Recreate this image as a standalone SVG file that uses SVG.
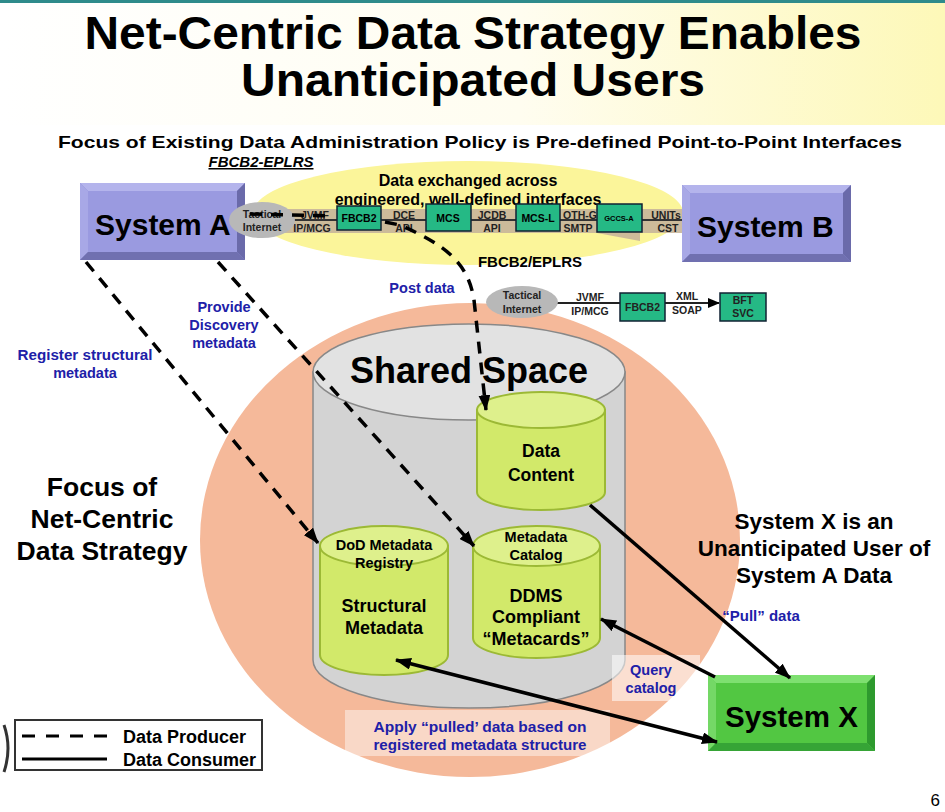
<svg xmlns="http://www.w3.org/2000/svg" width="945" height="812" viewBox="0 0 945 812">
<defs>
<linearGradient id="tg" x1="0" y1="0" x2="1" y2="0">
<stop offset="0" stop-color="#ffffff"/>
<stop offset="0.55" stop-color="#fffdf0"/>
<stop offset="1" stop-color="#fdf8b8"/>
</linearGradient>
<marker id="ah" viewBox="0 0 16 12" refX="15" refY="6" markerWidth="16" markerHeight="12" markerUnits="userSpaceOnUse" orient="auto-start-reverse">
<path d="M0,0 L16,6 L0,12 Z" fill="#000"/>
</marker>
<marker id="ahs" viewBox="0 0 12 10" refX="11" refY="5" markerWidth="12" markerHeight="10" markerUnits="userSpaceOnUse" orient="auto">
<path d="M0,0 L12,5 L0,10 Z" fill="#000"/>
</marker>
</defs>
<style>
text{font-family:"Liberation Sans",Arial,sans-serif;font-weight:bold;fill:#000}
.blue{fill:#2020a8;font-size:14.5px}
.sm{font-size:10.5px;fill:#222}
.gb{fill:#25b985;stroke:#123;stroke-width:1.5}
.cyl{fill:#d2e96a;stroke:#9cb935;stroke-width:2}
.cyt{fill:#def08c;stroke:#9cb935;stroke-width:2}
.dash{fill:none;stroke:#000;stroke-width:3.5;stroke-dasharray:12 9}
.sol{fill:none;stroke:#000;stroke-width:3.5}
.pg{font-weight:normal;font-size:17px}
</style>
<rect width="945" height="812" fill="#fff"/>
<rect x="0" y="3" width="945" height="122" fill="url(#tg)"/>
<rect x="0" y="0" width="945" height="3" fill="#2e8b8b"/>
<g id="title">
<text x="473" y="49" font-size="46" text-anchor="middle" textLength="777" lengthAdjust="spacingAndGlyphs">Net-Centric Data Strategy Enables</text>
<text x="473" y="96" font-size="46" text-anchor="middle" textLength="464" lengthAdjust="spacingAndGlyphs">Unanticipated Users</text>
<text x="480" y="148" font-size="17" text-anchor="middle" textLength="844" lengthAdjust="spacingAndGlyphs">Focus of Existing Data Administration Policy is Pre-defined Point-to-Point Interfaces</text>
</g>
<!-- salmon region -->
<ellipse cx="470" cy="540" rx="270" ry="237" fill="#f5b99a"/>
<!-- top yellow ellipse -->
<ellipse cx="468" cy="213" rx="215" ry="52" fill="#fbf59a"/>
<g id="point-to-point">
<text x="261" y="167" font-size="15" font-style="italic" text-anchor="middle" text-decoration="underline">FBCB2-EPLRS</text>
<text x="468" y="186" font-size="16" text-anchor="middle">Data exchanged across</text>
<text x="468" y="205" font-size="16" text-anchor="middle">engineered, well-defined interfaces</text>
<polygon points="285,209 690,209 690,233 640,233 640,241 597,233 285,233" fill="#c6b59a" opacity="0.9"/>
<line x1="290" y1="220" x2="696" y2="220" stroke="#333" stroke-width="2" marker-end="url(#ahs)"/>
<rect class="gb" x="337" y="206" width="44" height="24"/>
<rect class="gb" x="426" y="204" width="45" height="27"/>
<rect class="gb" x="516" y="204" width="44" height="27"/>
<rect class="gb" x="597" y="204" width="45" height="28"/>
<text x="359" y="222" font-size="10.5" text-anchor="middle" fill="#222">FBCB2</text>
<text x="448" y="222" font-size="10.5" text-anchor="middle">MCS</text>
<text x="538" y="222" font-size="10.5" text-anchor="middle">MCS-L</text>
<text x="619" y="221" font-size="7.5" text-anchor="middle">GCCS-A</text>
<text class="sm" x="315" y="219" text-anchor="middle">JVMF</text>
<text class="sm" x="312" y="232" text-anchor="middle">IP/MCG</text>
<text class="sm" x="404" y="219" text-anchor="middle">DCE</text>
<text class="sm" x="404" y="232" text-anchor="middle">API</text>
<text class="sm" x="492" y="219" text-anchor="middle">JCDB</text>
<text class="sm" x="492" y="232" text-anchor="middle">API</text>
<text class="sm" x="580" y="219" text-anchor="middle">OTH-G</text>
<text class="sm" x="578" y="232" text-anchor="middle">SMTP</text>
<text class="sm" x="666" y="219" text-anchor="middle">UNITs</text>
<text class="sm" x="668" y="232" text-anchor="middle">CST</text>
<text x="530" y="267" font-size="15" text-anchor="middle">FBCB2/EPLRS</text>
</g>
<g id="system-a">
<rect x="80" y="183" width="165" height="77" fill="#8a8ad2"/>
<polygon points="80,183 245,183 237,191 88,191" fill="#b4b4ec"/>
<polygon points="80,183 88,191 88,252 80,260" fill="#a8a8e6"/>
<polygon points="245,183 245,260 237,252 237,191" fill="#6a6aaa"/>
<polygon points="80,260 245,260 237,252 88,252" fill="#7070b0"/>
<rect x="88" y="191" width="149" height="61" fill="#9a9ae0"/>
<text x="95" y="235" font-size="30">System A</text>
</g>
<g id="tactical-internet-1">
<ellipse cx="262" cy="220" rx="33" ry="18" fill="#b8b8b8"/>
<text class="sm" x="262" y="218" text-anchor="middle">Tactical</text>
<text class="sm" x="262" y="231" text-anchor="middle">Internet</text>
</g>
<g id="system-b">
<rect x="682" y="185" width="169" height="77" fill="#8a8ad2"/>
<polygon points="682,185 851,185 843,193 690,193" fill="#b4b4ec"/>
<polygon points="682,185 690,193 690,254 682,262" fill="#a8a8e6"/>
<polygon points="851,185 851,262 843,254 843,193" fill="#6a6aaa"/>
<polygon points="682,262 851,262 843,254 690,254" fill="#7070b0"/>
<rect x="690" y="193" width="153" height="61" fill="#9a9ae0"/>
<text x="697" y="237" font-size="30">System B</text>
</g>
<g id="bft-chain">
<line x1="556" y1="303" x2="620" y2="303" stroke="#222" stroke-width="2"/>
<line x1="665" y1="303" x2="719" y2="303" stroke="#222" stroke-width="2" marker-end="url(#ahs)"/>
<ellipse cx="522" cy="302" rx="36" ry="16" fill="#b8b8b8"/>
<text class="sm" x="522" y="299" text-anchor="middle">Tactical</text>
<text class="sm" x="522" y="313" text-anchor="middle">Internet</text>
<text class="sm" x="590" y="301" text-anchor="middle">JVMF</text>
<text class="sm" x="590" y="315" text-anchor="middle">IP/MCG</text>
<rect class="gb" x="620" y="293" width="45" height="28"/>
<text class="sm" x="642.5" y="311" text-anchor="middle">FBCB2</text>
<text class="sm" x="687" y="300" text-anchor="middle">XML</text>
<text class="sm" x="687" y="314" text-anchor="middle">SOAP</text>
<rect class="gb" x="720" y="293" width="46" height="28"/>
<text class="sm" x="743" y="304" text-anchor="middle" fill="#dde">BFT</text>
<text class="sm" x="743" y="317" text-anchor="middle" fill="#dde">SVC</text>
</g>
<g id="shared-space">
<path d="M313,372 L313,660 A156,48 0 0 0 625,660 L625,372 Z" fill="#d3d3d3" stroke="#888" stroke-width="1.5"/>
<ellipse cx="469" cy="372" rx="156" ry="48" fill="#e2e2e2" stroke="#888" stroke-width="1.5"/>
<text x="469" y="383" font-size="36" text-anchor="middle">Shared Space</text>
</g>
<g id="data-content">
<path class="cyl" d="M477,410 L477,492 A64,18 0 0 0 605,492 L605,410 Z"/>
<ellipse class="cyt" cx="541" cy="410" rx="64" ry="18"/>
<text x="541" y="457" font-size="17.5" text-anchor="middle">Data</text>
<text x="541" y="481" font-size="17.5" text-anchor="middle">Content</text>
</g>
<g id="dod-registry">
<path class="cyl" d="M320,546 L320,655 A64,20 0 0 0 448,655 L448,546 Z"/>
<ellipse class="cyt" cx="384" cy="546" rx="64" ry="20"/>
<text x="384" y="550" font-size="14.5" text-anchor="middle">DoD Metadata</text>
<text x="384" y="568" font-size="14.5" text-anchor="middle">Registry</text>
<text x="384" y="612" font-size="18" text-anchor="middle">Structural</text>
<text x="384" y="634" font-size="18" text-anchor="middle">Metadata</text>
</g>
<g id="metadata-catalog">
<path class="cyl" d="M473,546 L473,638 A63.5,20 0 0 0 600,638 L600,546 Z"/>
<ellipse class="cyt" cx="536.5" cy="546" rx="63.5" ry="20"/>
<text x="536" y="542" font-size="14.5" text-anchor="middle">Metadata</text>
<text x="536" y="560" font-size="14.5" text-anchor="middle">Catalog</text>
<text x="536" y="602" font-size="18" text-anchor="middle">DDMS</text>
<text x="536" y="623" font-size="18" text-anchor="middle">Compliant</text>
<text x="536" y="645" font-size="18" text-anchor="middle">“Metacards”</text>
</g>
<g id="system-x">
<rect x="708" y="675" width="167" height="76" fill="#5ccc4c"/>
<polygon points="708,675 875,675 867,683 716,683" fill="#7ee070"/>
<polygon points="708,675 716,683 716,743 708,751" fill="#74d866"/>
<polygon points="875,675 875,751 867,743 867,683" fill="#2e9a2e"/>
<polygon points="708,751 875,751 867,743 716,743" fill="#36a436"/>
<rect x="716" y="683" width="151" height="60" fill="#52c742"/>
<text x="725" y="727" font-size="29.5">System X</text>
</g>
<g id="labels">
<rect x="612" y="655" width="88" height="46" fill="#fff" opacity="0.55"/>
<rect x="345" y="710" width="265" height="46" fill="#fff" opacity="0.45"/>
<text class="blue" x="224" y="312" text-anchor="middle">Provide</text>
<text class="blue" x="224" y="330" text-anchor="middle">Discovery</text>
<text class="blue" x="224" y="348" text-anchor="middle">metadata</text>
<text class="blue" x="85" y="360" text-anchor="middle" textLength="135" lengthAdjust="spacingAndGlyphs">Register structural</text>
<text class="blue" x="85" y="378" text-anchor="middle">metadata</text>
<text class="blue" x="422" y="293" text-anchor="middle">Post data</text>
<text class="blue" x="761" y="621" text-anchor="middle" style="font-size:15px">“Pull” data</text>
<text class="blue" x="651" y="675" text-anchor="middle">Query</text>
<text class="blue" x="651" y="693" text-anchor="middle">catalog</text>
<text class="blue" x="480" y="732" text-anchor="middle" textLength="213" lengthAdjust="spacingAndGlyphs">Apply “pulled’ data  based on</text>
<text class="blue" x="480" y="750" text-anchor="middle" textLength="213" lengthAdjust="spacingAndGlyphs">registered metadata structure</text>
<text x="102" y="496" font-size="26.5" text-anchor="middle">Focus of</text>
<text x="102" y="528" font-size="26.5" text-anchor="middle">Net-Centric</text>
<text x="102" y="560" font-size="26.5" text-anchor="middle">Data Strategy</text>
<text x="814" y="529" font-size="22.5" text-anchor="middle">System X is an</text>
<text x="814" y="556" font-size="22.5" text-anchor="middle">Unanticipated User of</text>
<text x="814" y="583" font-size="22.5" text-anchor="middle">System A Data</text>
<text class="pg" x="940" y="806" text-anchor="end">6</text>
</g>
<g id="connectors">
<path class="dash" d="M250,214 L330,216 M385,222 L400,225 C445,245 468,262 474,300 L486,410" marker-end="url(#ah)"/>
<path class="dash" d="M86,262 L318,543" marker-end="url(#ah)"/>
<path class="dash" d="M218,262 L474,546" marker-end="url(#ah)"/>
<path class="sol" d="M590,505 L790,678" marker-end="url(#ah)"/>
<path class="sol" d="M715,677 L601,619" marker-end="url(#ah)"/>
<path class="sol" d="M396,660 L717,742" marker-start="url(#ah)" marker-end="url(#ah)"/>
</g>
<g id="legend">
<path d="M4,725 Q12,748 4,772" fill="none" stroke="#333" stroke-width="3"/>
<rect x="15" y="720" width="247" height="50" fill="#fff" stroke="#333" stroke-width="2"/>
<line x1="22" y1="736" x2="108" y2="736" stroke="#000" stroke-width="3" stroke-dasharray="13 11"/>
<line x1="22" y1="759" x2="107" y2="759" stroke="#000" stroke-width="3"/>
<text x="123" y="743" font-size="18">Data Producer</text>
<text x="123" y="766" font-size="18">Data Consumer</text>
</g>
</svg>
